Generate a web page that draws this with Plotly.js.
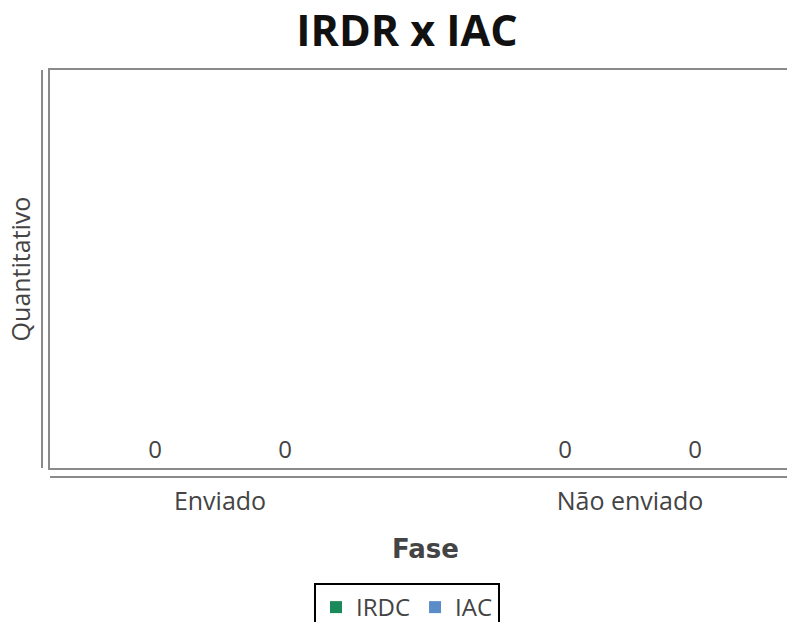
<!DOCTYPE html>
<html>
<head>
<meta charset="utf-8">
<script src="https://cdn.plot.ly/plotly-3.0.1.min.js"></script>
<style>
  html, body { margin: 0; padding: 0; background: #ffffff; overflow: hidden; width: 787px; height: 622px; }
  #chart { width: 801px; height: 622px; }
</style>
</head>
<body>
<div id="chart"></div>
<script>
// Phases on the category axis and the count for each series
const fases = ['Enviado', 'Não enviado'];
const irdcValores = [0, 0];
const iacValores = [0, 0];

const seriesNomes = ['IRDC', 'IAC'];
const seriesCores = ['#1b8a5a', '#5a8cc8'];

const textoCor = '#444444';
const linhaCor = '#8a8a8a';

function serie(nome, valores, cor) {
  return {
    type: 'bar',
    name: nome,
    x: fases,
    y: valores,
    marker: { color: cor },
    text: valores.map(v => String(v)),
    textposition: 'outside',
    cliponaxis: false,
    textfont: { family: 'Open Sans, sans-serif', size: 24, color: textoCor },
    hoverinfo: 'x+y+name'
  };
}

const data = [
  serie(seriesNomes[0], irdcValores, seriesCores[0]),
  serie(seriesNomes[1], iacValores, seriesCores[1])
];

// The plot frame runs on past the right edge of the visible page
const layout = {
  width: 801,
  height: 622,
  paper_bgcolor: '#ffffff',
  plot_bgcolor: '#ffffff',
  margin: { l: 50, r: 0, t: 70, b: 154, pad: 0, autoexpand: false },
  barmode: 'group',
  bargap: 0.366,
  bargroupgap: 0,
  showlegend: true,
  title: {
    text: '<b>IRDR x IAC</b>',
    font: { family: 'Open Sans, sans-serif', size: 43, color: '#111111' },
    x: 407 / 801,
    xref: 'container',
    xanchor: 'center',
    y: 0.951,
    yref: 'container',
    yanchor: 'middle'
  },
  xaxis: {
    type: 'category',
    range: [-0.4146, 1.417],
    automargin: false,
    showgrid: false,
    zeroline: false,
    showline: true,
    mirror: true,
    linecolor: linhaCor,
    linewidth: 2,
    ticks: '',
    ticklabelstandoff: 10,
    tickfont: { family: 'Open Sans, sans-serif', size: 25, color: textoCor },
    title: {
      text: '<b>Fase</b>',
      font: { family: 'DejaVu Sans, sans-serif', size: 26, color: textoCor },
      standoff: 24
    },
    fixedrange: true
  },
  yaxis: {
    range: [0, 1],
    automargin: false,
    showgrid: false,
    zeroline: false,
    showline: true,
    linecolor: linhaCor,
    linewidth: 2,
    showticklabels: false,
    ticks: '',
    title: {
      text: 'Quantitativo',
      font: { family: 'Open Sans, sans-serif', size: 25, color: textoCor },
      standoff: 10
    },
    fixedrange: true
  },
  legend: {
    orientation: 'h',
    x: (407 - 50) / 751,
    xanchor: 'center',
    y: -0.289,
    yanchor: 'top',
    bordercolor: '#000000',
    borderwidth: 2,
    bgcolor: '#ffffff',
    font: { family: 'Open Sans, sans-serif', size: 24, color: textoCor },
    itemwidth: 30,
    traceorder: 'normal'
  },
  shapes: [
    // offset left rule beside the plot frame
    {
      type: 'line', xref: 'paper', yref: 'paper',
      xsizemode: 'pixel', xanchor: 0, x0: -8, x1: -8,
      y0: 0, y1: 1,
      line: { color: linhaCor, width: 2 }
    },
    // offset bottom rule under the plot frame
    {
      type: 'line', xref: 'paper', yref: 'paper',
      ysizemode: 'pixel', yanchor: 0, y0: -9, y1: -9,
      x0: 0, x1: 1,
      line: { color: linhaCor, width: 2 }
    }
  ]
};

Plotly.newPlot('chart', data, layout, { displayModeBar: false, staticPlot: true });
</script>
</body>
</html>
